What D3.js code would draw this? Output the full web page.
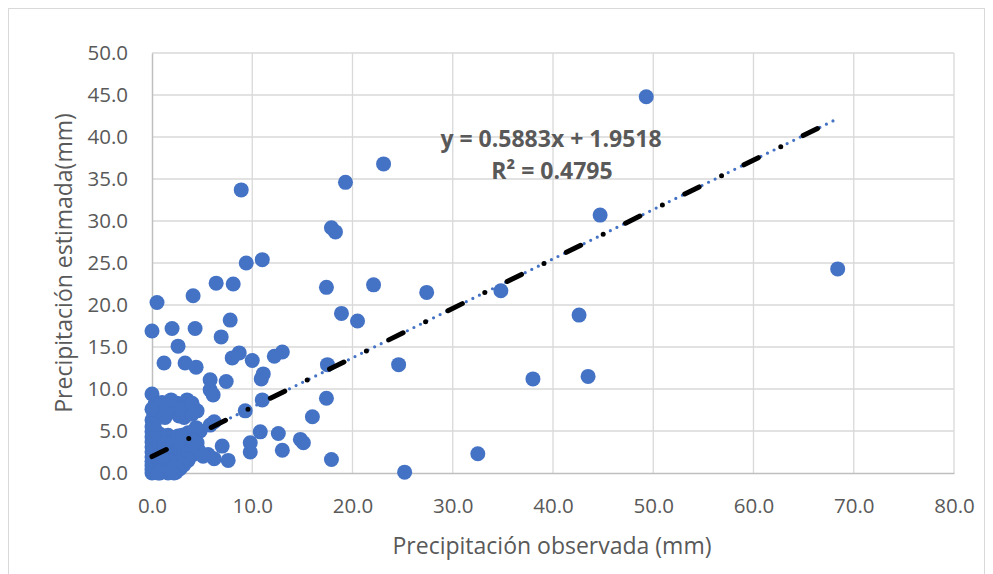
<!DOCTYPE html>
<meta charset="utf-8">
<style>
  body { margin: 0; background: #fff; }
  text { font-family: "Open Sans", sans-serif; fill: #595959; }
</style>
<svg width="993" height="574"></svg>
<script src="https://d3js.org/d3.v7.min.js"></script>
<script>

var observada = [
  49.3, 68.4, 44.7, 23.1, 19.3, 8.9, 17.9, 18.3, 11.0, 9.4,
  6.4, 8.1, 17.4, 22.1, 27.4, 34.8, 0.5, 4.1, 42.6, 7.8,
  18.9, 20.5, 0.0, 2.0, 4.3, 6.9, 2.6, 8.0, 8.7, 10.0,
  12.2, 13.0, 1.2, 3.3, 4.4, 17.5, 24.6, 38.0, 43.5, 5.8,
  7.4, 10.9, 11.1, 5.8, 6.1, 0.0, 17.4, 11.0, 9.3, 16.0,
  32.5, 25.2, 17.9, 13.0, 12.6, 14.8, 15.1, 10.8, 9.8, 9.8,
  7.0, 7.6, 6.2, 5.6,
  // around the trend line near the origin
  4.4, 4.8, 5.8, 6.2, 3.6, 4.2, 3.8, 4.5,
  // upper part of the cluster
  0.3, 0.8, 1.6, 2.5, 3.5, 3.9, 4.5, 2.7, 1.3, 0.5, 3.2, 1.1,
  1.0, 2.0, 3.0, 4.0, 1.9, 0.2, 4.0, 0.0, 0.0,
  // dense cluster
  0, 0, 0, 0, 0, 0, 0, 0, 0, 0, 0,
  0.4, 0.4, 0.4, 0.4, 0.4, 0.4,
  0.8, 0.8, 0.8, 0.8, 0.8, 0.8,
  1.2, 1.2, 1.2, 1.2, 1.2,
  1.6, 1.6, 1.6, 1.6, 1.6, 1.6,
  2.0, 2.0, 2.0, 2.0, 2.0,
  2.4, 2.4, 2.4, 2.4, 2.4,
  2.8, 2.8, 2.8, 2.8,
  3.2, 3.2, 3.2,
  3.6, 3.6, 4.1, 4.1, 4.6, 5.1,
  0.6, 1.0, 2.2, 1.4, 1.8, 2.6, 3.0, 0.2
];
var estimada = [
  44.8, 24.3, 30.7, 36.8, 34.6, 33.7, 29.2, 28.7, 25.4, 25.0,
  22.6, 22.5, 22.1, 22.4, 21.5, 21.7, 20.3, 21.1, 18.8, 18.2,
  19.0, 18.1, 16.9, 17.2, 17.2, 16.2, 15.1, 13.7, 14.3, 13.4,
  13.9, 14.4, 13.1, 13.1, 12.6, 12.9, 12.9, 11.2, 11.5, 11.1,
  10.9, 11.2, 11.8, 9.9, 9.3, 9.4, 8.9, 8.7, 7.4, 6.7,
  2.3, 0.1, 1.6, 2.7, 4.7, 4.0, 3.6, 4.9, 3.6, 2.5,
  3.2, 1.5, 1.7, 2.2,
  5.4, 5.0, 5.7, 6.1, 4.8, 3.9, 2.4, 3.6,
  8.2, 7.6, 7.3, 8.3, 8.7, 7.8, 7.4, 6.8, 6.6, 6.9, 6.6, 8.1,
  8.4, 7.8, 7.6, 8.3, 8.7, 7.0, 7.0, 6.3, 7.6,
  0, 0.4, 0.9, 1.4, 1.9, 2.5, 3.1, 3.7, 4.3, 4.9, 5.5,
  0.2, 1.1, 2.0, 3.0, 4.0, 5.0,
  0.0, 0.7, 1.6, 2.6, 3.6, 4.6,
  0.3, 1.2, 2.2, 3.2, 4.2,
  0.0, 0.8, 1.8, 2.8, 3.8, 4.5,
  0.4, 1.4, 2.4, 3.4, 4.2,
  0.1, 1.0, 2.0, 3.0, 3.9,
  0.5, 1.6, 2.6, 3.5,
  1.0, 2.0, 3.0,
  1.5, 2.6, 2.2, 3.1, 2.8, 2.0,
  0.0, 2.0, 0.0, 3.6, 0.3, 4.4, 4.5, 5.8
];

var xTicks = [0, 10, 20, 30, 40, 50, 60, 70, 80];
var yTicks = [0, 5, 10, 15, 20, 25, 30, 35, 40, 45, 50];

var slope = 0.5883, intercept = 1.9518;
var ecuacion = "y = 0.5883x + 1.9518";
var r2 = "R² = 0.4795";
var xTitle = "Precipitación observada (mm)";
var yTitle = "Precipitación estimada(mm)";

var svg = d3.select("svg");

var x = d3.scaleLinear().domain([0, 80]).range([152, 954]);
var y = d3.scaleLinear().domain([0, 50]).range([473, 53]);

// outer chart border
svg.append("rect")
    .attr("x", 8.5).attr("y", 8.5)
    .attr("width", 976).attr("height", 580)
    .attr("fill", "none").attr("stroke", "#d9d9d9");

// gridlines
svg.append("g").selectAll("line")
  .data(yTicks.slice(1))
  .enter().append("line")
    .attr("x1", x(0)).attr("x2", x(80))
    .attr("y1", function(d) { return y(d); })
    .attr("y2", function(d) { return y(d); })
    .attr("stroke", "#d9d9d9").attr("stroke-width", 1.3);

svg.append("g").selectAll("line")
  .data(xTicks.slice(1))
  .enter().append("line")
    .attr("y1", y(0)).attr("y2", y(50))
    .attr("x1", function(d) { return x(d); })
    .attr("x2", function(d) { return x(d); })
    .attr("stroke", "#d9d9d9").attr("stroke-width", 1.3);

// axes
var xAxis = svg.append("g")
    .attr("transform", "translate(0," + y(0) + ")")
    .call(d3.axisBottom(x).tickValues(xTicks).tickSize(0).tickPadding(25)
      .tickFormat(d3.format(".1f")));
var yAxis = svg.append("g")
    .attr("transform", "translate(" + x(0) + ",0)")
    .call(d3.axisLeft(y).tickValues(yTicks).tickSize(0).tickPadding(24)
      .tickFormat(d3.format(".1f")));

[xAxis, yAxis].forEach(function(g) {
  g.select(".domain").attr("stroke", "#bfbfbf").attr("stroke-width", 1.5);
  g.selectAll("text")
    .attr("fill", "#595959")
    .style("font-family", "'Open Sans', sans-serif")
    .style("font-size", "20.5px");
});

// points
var puntos = observada.map(function(d, i) { return [d, estimada[i]]; });

svg.append("g").selectAll("circle")
  .data(puntos)
  .enter().append("circle")
    .attr("cx", function(d) { return x(d[0]); })
    .attr("cy", function(d) { return y(d[1]); })
    .attr("r", 7.5)
    .attr("fill", "#4472c4");

// blue dotted trendline over the data range
var xMin = d3.min(observada), xMax = d3.max(observada);
svg.append("line")
    .attr("x1", x(xMin)).attr("y1", y(slope * xMin + intercept))
    .attr("x2", x(xMax)).attr("y2", y(slope * xMax + intercept))
    .attr("stroke", "#4472c4").attr("stroke-width", 3.2)
    .attr("stroke-linecap", "round")
    .attr("stroke-dasharray", "0 7.3");

// black long dash-dot line
var xEnd = 66.6;
svg.append("line")
    .attr("x1", x(0)).attr("y1", y(intercept))
    .attr("x2", x(xEnd)).attr("y2", y(slope * xEnd + intercept))
    .attr("stroke", "#000").attr("stroke-width", 5)
    .attr("stroke-linecap", "round")
    .attr("stroke-dasharray", "16 25 0 25");

// equation labels
svg.append("text")
    .attr("x", 551).attr("y", 147)
    .attr("text-anchor", "middle")
    .style("font-size", "23px").style("font-weight", "bold")
    .text(ecuacion);
svg.append("text")
    .attr("x", 552).attr("y", 179)
    .attr("text-anchor", "middle")
    .style("font-size", "23px").style("font-weight", "bold")
    .text(r2);

// axis titles
svg.append("text")
    .attr("x", 552).attr("y", 554)
    .attr("text-anchor", "middle")
    .style("font-size", "23px")
    .text(xTitle);
svg.append("text")
    .attr("transform", "translate(72," + ((y(0) + y(50)) / 2) + ") rotate(-90)")
    .attr("text-anchor", "middle")
    .style("font-size", "23px")
    .text(yTitle);

</script>
